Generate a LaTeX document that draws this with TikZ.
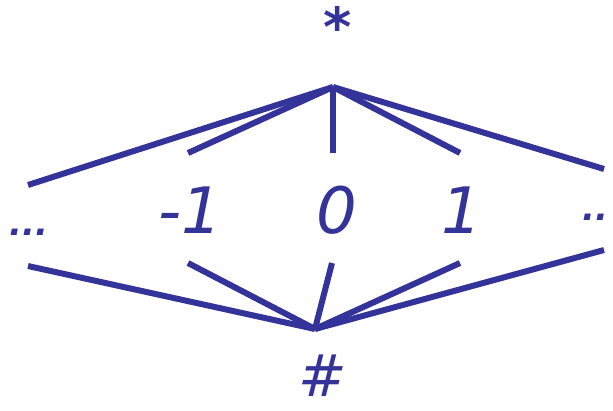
\documentclass[tikz,border=0pt]{standalone}
\usepackage{fontspec}
\setmainfont{DejaVu Sans}
\definecolor{ink}{RGB}{51,51,153}
\begin{document}
\begin{tikzpicture}[x=1pt,y=-1pt,
  edge/.style={ink,line width=6pt},
  lbl/.style={text=ink,font=\fontsize{64}{64}\selectfont\itshape,inner sep=0pt,anchor=base},
  dots/.style={lbl,font=\fontsize{34}{34}\selectfont\bfseries\itshape}]
\useasboundingbox (0,0) rectangle (613,410);
\coordinate (top) at (333,87);
\coordinate (bot) at (315,329);
\coordinate (t1) at (28,185);
\coordinate (t2) at (188,153);
\coordinate (t3) at (333,153);
\coordinate (t4) at (460,153);
\coordinate (t5) at (604,169);
\coordinate (b1) at (28,266);
\coordinate (b2) at (188,263);
\coordinate (b3) at (332,263);
\coordinate (b4) at (460,263);
\coordinate (b5) at (604,250);
\foreach \e in {t1,t2,t3,t4,t5} \draw[edge] (top) -- (\e);
\foreach \e in {b1,b2,b3,b4,b5} \draw[edge] (bot) -- (\e);
\node[lbl,font=\fontsize{54}{54}\selectfont\bfseries\itshape] (star) at (338,46) {*};
\node[dots] (dl) at (29,235) {...};
\node[lbl] (m1) at (190,233) {-1};
\node[lbl] (z) at (337,233) {0};
\node[lbl] (p1) at (462,233) {1};
\node[dots,anchor=base east] (dr) at (609,220) {..};
\node[lbl,font=\fontsize{58}{58}\selectfont\itshape] (hash) at (323,396) {\#};
\end{tikzpicture}
\end{document}
